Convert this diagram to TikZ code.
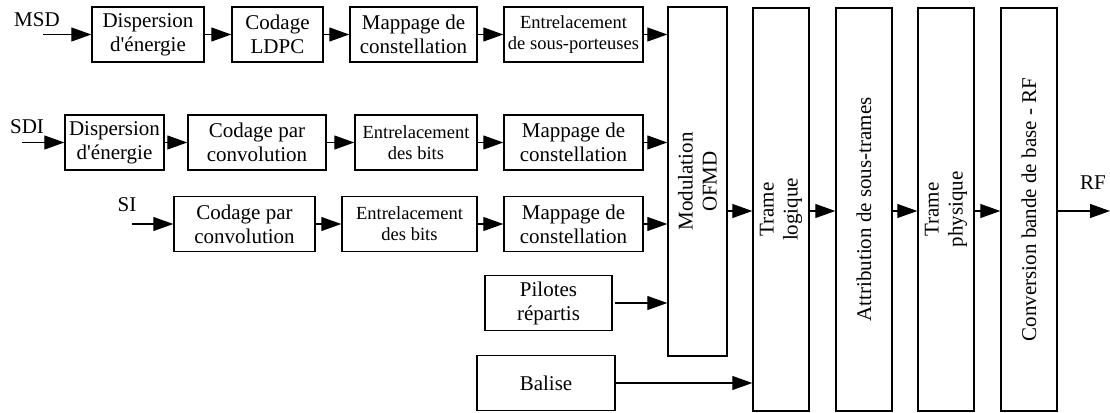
\documentclass[tikz,border=0pt]{standalone}
\usepackage{fontspec}
\setmainfont{Liberation Serif}
\usetikzlibrary{arrows.meta}

\begin{document}
\begin{tikzpicture}[x=1pt, y=-1pt, >={Triangle[length=20pt,width=14pt]},
    blk/.style={draw, line width=1.4pt, align=center, inner sep=1pt,
        minimum height=55pt, font=\fontsize{21}{24}\selectfont},
    sml/.style={blk, font=\fontsize{18.5}{21}\selectfont},
    vblk/.style={blk, rotate=90, minimum width=403pt, minimum height=56pt},
    lbl/.style={font=\fontsize{21}{24}\selectfont},
    flow/.style={->, line width=1.1pt}]
    \useasboundingbox (0,0) rectangle (1110,412);

    % MSD
    \node[blk, minimum width=112pt] (msdA) at (148,34.5) {Dispersion\\d\textquotesingle\'energie};
    \node[blk, minimum width=91pt] (msdB) at (277.5,34.5) {Codage\\LDPC};
    \node[blk, minimum width=127pt] (msdC) at (413.5,34.5) {Mappage de\\constellation};
    \node[sml, minimum width=139pt] (msdD) at (573.5,34.5) {Entrelacement\\de sous-porteuses};

    % SDI
    \node[blk, minimum width=99pt] (sdiA) at (114.5,142.5) {Dispersion\\d\textquotesingle\'energie};
    \node[blk, minimum width=138pt] (sdiB) at (257,142.5) {Codage par\\convolution};
    \node[sml, minimum width=122pt] (sdiC) at (416,142.5) {Entrelacement\\des bits};
    \node[blk, minimum width=139pt] (sdiD) at (573.5,142.5) {Mappage de\\constellation};

    % SI
    \node[blk, minimum width=141pt] (siB) at (244.5,224) {Codage par\\convolution};
    \node[sml, minimum width=135pt] (siC) at (409.5,224) {Entrelacement\\des bits};
    \node[blk, minimum width=139pt] (siD) at (573.5,224) {Mappage de\\constellation};

    \node[blk, minimum width=127pt] (pil) at (548.5,303) {Pilotes\\r\'epartis};
    \node[blk, minimum width=138pt] (bal) at (546,383) {Balise};

    % vertical blocks
    \node[vblk, minimum width=349pt, minimum height=59pt] (ofdm) at (697.5,181.5)
        {Modulation\\OFMD};
    \node[vblk] (logi) at (781,209.5) {Trame\\logique};
    \node[vblk] (attr) at (864,209.5) {Attribution de sous-trames};
    \node[vblk] (phys) at (946,209.5) {Trame\\physique};
    \node[vblk] (conv) at (1029,209.5) {Conversion bande de base - RF};

    % inputs and output
    \node[lbl] (msd) at (37,20) {MSD};
    \node[lbl] (sdi) at (27,127) {SDI};
    \node[lbl] (si) at (127,205) {SI};
    \node[lbl] (rf) at (1093,183) {RF};
    \coordinate (inMsd) at (43,34.5);
    \coordinate (inSdi) at (22,142.5);
    \coordinate (inSi) at (132,224);
    \coordinate (outRf) at (1110,211);

    \draw[flow] (inMsd) -- (msdA);
    \draw[flow] (msdA) -- (msdB);
    \draw[flow] (msdB) -- (msdC);
    \draw[flow] (msdC) -- (msdD);
    \draw[flow] (msdD.east) -- (msdD.east -| ofdm.north);

    \draw[flow] (inSdi) -- (sdiA);
    \draw[flow] (sdiA) -- (sdiB);
    \draw[flow] (sdiB) -- (sdiC);
    \draw[flow] (sdiC) -- (sdiD);
    \draw[flow] (sdiD.east) -- (sdiD.east -| ofdm.north);

    \draw[flow] (inSi) -- (siB);
    \draw[flow] (siB) -- (siC);
    \draw[flow] (siC) -- (siD);
    \draw[flow] (siD.east) -- (siD.east -| ofdm.north);

    \draw[flow] ([xshift=2pt]pil.east) -- (pil.east -| ofdm.north);
    \draw[flow] (bal.east) -- (bal.east -| logi.north);

    \draw[flow] (ofdm.south |- outRf) -- (logi.north |- outRf);
    \draw[flow] (logi.south |- outRf) -- (attr.north |- outRf);
    \draw[flow] (attr.south |- outRf) -- (phys.north |- outRf);
    \draw[flow] (phys.south |- outRf) -- (conv.north |- outRf);
    \draw[flow] (conv.south |- outRf) -- (outRf);
\end{tikzpicture}
\end{document}
